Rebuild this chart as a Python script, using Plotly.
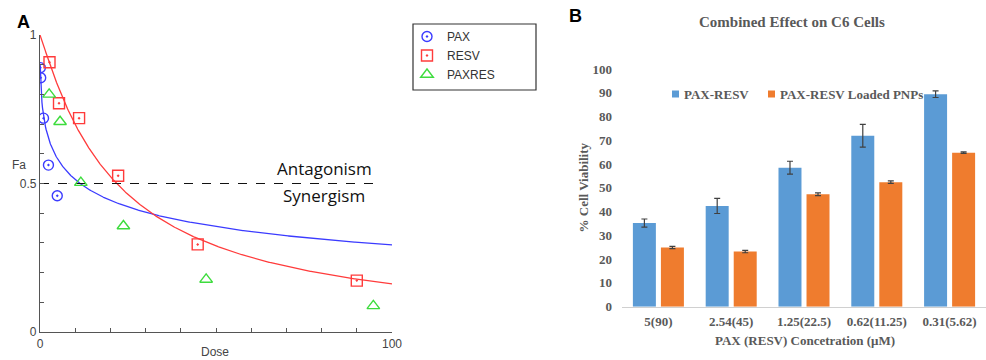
import numpy as np
import plotly.graph_objects as go

# ---- Panel A: dose-effect data (Fa vs dose) ----
pax_dose = [0.1, 0.2, 1.0, 2.4, 4.9]
pax_fa = [0.89, 0.856, 0.72, 0.562, 0.459]
resv_dose = [2.7, 5.4, 11.1, 22.2, 44.8, 90.0]
resv_fa = [0.908, 0.77, 0.72, 0.526, 0.295, 0.173]
paxres_dose = [2.6, 5.7, 11.6, 23.7, 47.2, 94.7]
paxres_fa = [0.80, 0.708, 0.503, 0.357, 0.177, 0.088]

# median-effect fits: Fa = 1 / (1 + (D/Dm)^m)
pax_dm, pax_m = 11.4, 0.405
resv_dm, resv_m = 21.8, 1.08

# ---- Panel B: combined effect on C6 cells ----
conc_labels = ["5(90)", "2.54(45)", "1.25(22.5)", "0.62(11.25)", "0.31(5.62)"]
free_vals = [35.2, 42.4, 58.5, 71.9, 89.4]
free_err = [1.7, 3.2, 2.7, 4.8, 1.4]
pnp_vals = [24.9, 23.2, 47.3, 52.4, 64.8]
pnp_err = [0.5, 0.5, 0.6, 0.5, 0.3]
series_names = ["PAX-RESV", "PAX-RESV Loaded PNPs"]
series_colors = ["#5b9bd5", "#ef7c2e"]

W, H = 986, 360


def px_x(x):
    return x / W


def px_y(y):
    return 1 - y / H


fig = go.Figure()

dose_grid = np.linspace(0.05, 100, 600)
fig.add_trace(go.Scatter(
    x=dose_grid, y=1 / (1 + (dose_grid / pax_dm) ** pax_m), mode="lines",
    line=dict(color="#3b3bff", width=1.3), showlegend=False, hoverinfo="skip",
    xaxis="x", yaxis="y"))
resv_grid = np.linspace(0, 100, 600)
fig.add_trace(go.Scatter(
    x=resv_grid, y=1 / (1 + (resv_grid / resv_dm) ** resv_m), mode="lines",
    line=dict(color="#ff3b3b", width=1.3), showlegend=False, hoverinfo="skip",
    xaxis="x", yaxis="y"))

# reference line at Fa = 0.5
fig.add_trace(go.Scatter(
    x=[0, 97], y=[0.5, 0.5], mode="lines",
    line=dict(color="#111111", width=1.2, dash="dash"),
    showlegend=False, hoverinfo="skip", xaxis="x", yaxis="y"))

fig.add_trace(go.Scatter(
    x=pax_dose, y=pax_fa, mode="markers", name="PAX",
    marker=dict(symbol="circle-open-dot", size=10, color="#3b3bff", line=dict(width=1.4)),
    xaxis="x", yaxis="y"))
fig.add_trace(go.Scatter(
    x=resv_dose, y=resv_fa, mode="markers", name="RESV",
    marker=dict(symbol="square-open-dot", size=11, color="#ff3b3b", line=dict(width=1.4)),
    xaxis="x", yaxis="y"))
fig.add_trace(go.Scatter(
    x=paxres_dose, y=paxres_fa, mode="markers", name="PAXRES",
    marker=dict(symbol="triangle-up-open", size=11, color="#3ddc3d", line=dict(width=1.4)),
    xaxis="x", yaxis="y"))

# grouped bars with error bars
err_style = dict(type="data", thickness=1.2, width=3, color="#404040")
for name, vals, errs, col in zip(series_names, [free_vals, pnp_vals], [free_err, pnp_err], series_colors):
    fig.add_trace(go.Bar(
        x=conc_labels, y=vals, name=name, showlegend=False,
        marker=dict(color=col, line=dict(color=col, width=0)),
        error_y=dict(array=errs, **err_style),
        xaxis="x2", yaxis="y2"))

axis_a = dict(color="#444444", linecolor="#555555", linewidth=1.2, showline=True,
              showgrid=False, zeroline=False, ticks="inside", ticklen=4, automargin=False,
              tickcolor="#555555", tickfont=dict(family="Liberation Sans", size=12, color="#444444"))

serif_gray = dict(family="Liberation Serif", color="#595959")

fig.update_layout(
    width=W, height=H, autosize=False, margin=dict(l=0, r=0, t=0, b=0, pad=0),
    plot_bgcolor="white", paper_bgcolor="white",
    barmode="group", bargap=0.23, bargroupgap=0.18,
    xaxis=dict(domain=[px_x(40), px_x(392)], range=[0, 100], anchor="y",
               tickvals=list(range(0, 101, 10)),
               ticktext=["0"] + [""] * 9 + ["100"], **axis_a),
    yaxis=dict(domain=[px_y(332), px_y(35)], range=[0, 1], anchor="x",
               tickvals=[i / 10 for i in range(11)],
               ticktext=["0", "", "", "", "", "0.5", "", "", "", "", "1"], **axis_a),
    xaxis2=dict(domain=[px_x(622), px_x(986)], anchor="y2", showline=True,
                linecolor="#d0d0d0", linewidth=1.2, ticks="", showgrid=False, automargin=False,
                tickfont=dict(size=13, weight="bold", **serif_gray), ticklabelstandoff=3),
    yaxis2=dict(domain=[px_y(306.7), px_y(69)], range=[0, 100], anchor="x2",
                dtick=10, showline=False, showgrid=False, zeroline=False, ticks="", automargin=False,
                tickfont=dict(size=13, weight="bold", **serif_gray), ticklabelstandoff=9),
    legend=dict(x=px_x(407), y=px_y(22), xanchor="left", yanchor="top",
                bgcolor="rgba(0,0,0,0)", borderwidth=0, tracegroupgap=0,
                font=dict(family="Liberation Sans", size=12, color="#333333"),
                itemwidth=30),
    shapes=[dict(type="rect", xref="paper", yref="paper",
                 x0=px_x(413), x1=px_x(536), y0=px_y(90), y1=px_y(24),
                 line=dict(color="#333333", width=1.2))],
)

annotations = [
    dict(text="<b>A</b>", x=px_x(23), y=px_y(22), font=dict(family="Liberation Sans", size=18, color="#000000")),
    dict(text="<b>B</b>", x=px_x(575), y=px_y(16), font=dict(family="Liberation Sans", size=18, color="#000000")),
    dict(text="Fa", x=px_x(19), y=px_y(165), font=dict(family="Liberation Sans", size=12, color="#444444")),
    dict(text="Dose", x=px_x(215), y=px_y(352), font=dict(family="Liberation Sans", size=12, color="#444444")),
    dict(text="Antagonism", x=px_x(324), y=px_y(168), font=dict(family="Open Sans", size=17, color="#111111")),
    dict(text="Synergism", x=px_x(324), y=px_y(195), font=dict(family="Open Sans", size=17, color="#111111")),
    dict(text="<b>Combined Effect on C6 Cells</b>", x=px_x(792), y=px_y(22), font=dict(size=15, **serif_gray)),
    dict(text="<b>PAX (RESV) Concetration (μM)</b>", x=px_x(805), y=px_y(340), font=dict(size=13, **serif_gray)),
    dict(text="<b>% Cell Viability</b>", x=px_x(583), y=px_y(187.5), textangle=-90, font=dict(size=13, **serif_gray)),
]
for a in annotations:
    a.update(xanchor="center")

# legend of panel B: colour key squares with labels
legend_b_x = [672, 768]
for name, col, lx in zip(series_names, series_colors, legend_b_x):
    fig.add_shape(type="rect", xref="paper", yref="paper",
                  x0=px_x(lx), x1=px_x(lx + 7), y0=px_y(97.5), y1=px_y(90.5),
                  fillcolor=col, line=dict(width=0))
    annotations.append(dict(text="<b>" + name + "</b>", x=px_x(lx + 10), y=px_y(94.5),
                            xanchor="left", font=dict(size=13, **serif_gray)))

for a in annotations:
    a.update(xref="paper", yref="paper", showarrow=False, yanchor="middle")
fig.update_layout(annotations=annotations)

fig.write_html("out.html")
